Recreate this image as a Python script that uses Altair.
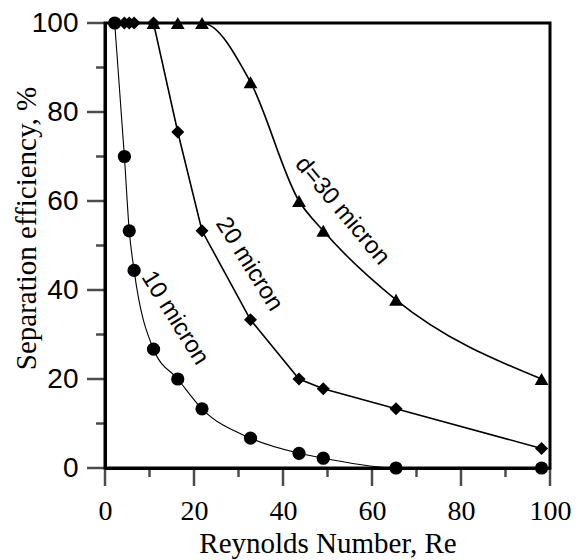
import altair as alt
import pandas as pd

# Reynolds numbers (x values)
re = [2.18, 4.36, 5.45, 6.54, 10.9, 16.35, 21.8, 32.7, 43.6, 49.05, 65.4, 98.1]
# Separation efficiency (%) per particle size; None = not plotted
eff_10 = [100, 70, 53.3, 44.4, 26.7, 20, 13.3, 6.7, 3.3, 2.2, 0, 0]
eff_20 = [None, 100, 100, 100, 100, 75.5, 53.3, 33.3, 20, 17.8, 13.3, 4.4]
eff_30 = [None, None, None, None, 100, 100, 100, 86.7, 60, 53.3, 37.8, 20]
series_names = ["10 micron", "20 micron", "30 micron"]

# annotation labels
label_text = ["10 micron", "20 micron", "d=30 micron"]
label_re = [15.7, 32.4, 53.3]
label_eff = [33.7, 45.8, 57.8]
label_angle = [58, 58, 50]

# axis tick values
major_ticks = [0, 20, 40, 60, 80, 100]
minor_ticks = [10, 30, 50, 70, 90]

rows = []
for name, vals in zip(series_names, [eff_10, eff_20, eff_30]):
    for r, v in zip(re, vals):
        if v is not None:
            rows.append({"Re": r, "eff": v, "series": name})
df = pd.DataFrame(rows)

labels_df = pd.DataFrame({"text": label_text, "Re": label_re, "eff": label_eff, "angle": label_angle})
major_df = pd.DataFrame({"v": major_ticks})
minor_df = pd.DataFrame({"v": minor_ticks})

xs = alt.Scale(domain=[0, 100], nice=False, zero=False)
ys = alt.Scale(domain=[0, 100], nice=False, zero=False)

SERIF = "Liberation Serif"
SANS = "Liberation Sans"

x_axis = alt.Axis(
    orient="bottom", values=major_ticks, grid=False, ticks=False, tickSize=0,
    domainWidth=3, domainColor="black",
    labelFont=SERIF, labelFontSize=28, labelColor="black", labelPadding=29,
    labelFlush=False, labelOverlap=False,
    title="Reynolds Number, Re", titleFont=SERIF, titleFontSize=29,
    titleFontWeight="normal", titleColor="black",
    titleX=222.5, titleY=84, titleAlign="center", titleBaseline="alphabetic",
)
y_axis = alt.Axis(
    orient="left", values=major_ticks, grid=False, ticks=False, tickSize=0,
    domainWidth=3, domainColor="black",
    labelFont=SANS, labelFontSize=28, labelColor="black", labelPadding=27,
    labelFlush=False, labelOverlap=False,
    title="Separation efficiency, %", titleFont=SERIF, titleFontSize=29,
    titleFontWeight="normal", titleColor="black",
    titleX=-70, titleY=205, titleAngle=-90, titleAlign="center", titleBaseline="alphabetic",
)

base = alt.Chart(df)

styles = {
    "10 micron": dict(shape="circle", size=175, stroke=1.1, interp="monotone"),
    "20 micron": dict(shape="diamond", size=170, stroke=1.6, interp="linear"),
    "30 micron": dict(shape="triangle-up", size=190, stroke=1.6, interp="monotone"),
}

layers = []
for i, name in enumerate(series_names):
    st = styles[name]
    sub = base.transform_filter(alt.datum.series == name)
    xe = alt.X("Re:Q", scale=xs, axis=x_axis)
    ye = alt.Y("eff:Q", scale=ys, axis=y_axis)
    line = sub.mark_line(color="black", strokeWidth=st["stroke"], interpolate=st["interp"]).encode(
        x=xe, y=ye, order="Re:Q"
    )
    pts = sub.mark_point(filled=True, shape=st["shape"], size=st["size"], color="black", opacity=1).encode(
        x=xe, y=ye,
    )
    layers += [line, pts]

# outward axis ticks (major long, minor short)
def x_ticks(data, length):
    return alt.Chart(data).mark_tick(
        color="black", thickness=2.5, size=length, orient="vertical", yOffset=length / 2
    ).encode(
        x=alt.X("v:Q", scale=xs, axis=x_axis),
        y=alt.YDatum(0, scale=ys, axis=y_axis),
    )

def y_ticks(data, length):
    return alt.Chart(data).mark_tick(
        color="black", thickness=2.5, size=length, orient="horizontal", xOffset=-length / 2
    ).encode(
        y=alt.Y("v:Q", scale=ys, axis=y_axis),
        x=alt.XDatum(0, scale=xs, axis=x_axis),
    )

layers += [x_ticks(major_df, 18), x_ticks(minor_df, 9), y_ticks(major_df, 18), y_ticks(minor_df, 9)]

text = alt.Chart(labels_df).mark_text(
    font=SANS, fontSize=24, align="center", baseline="middle", color="black"
).encode(
    x=alt.X("Re:Q", scale=xs, axis=x_axis),
    y=alt.Y("eff:Q", scale=ys, axis=y_axis),
    text="text:N",
    angle=alt.Angle("angle:Q", scale=None),
)
layers.append(text)

chart = alt.layer(*layers).properties(
    width=445, height=445,
    padding={"left": 97, "top": 15, "right": 27, "bottom": 92},
    autosize=alt.AutoSizeParams(type="none"),
    background="white",
).configure_view(
    stroke="black", strokeWidth=3
)

chart.save("out.html", embed_options={"renderer": "svg", "actions": False})
